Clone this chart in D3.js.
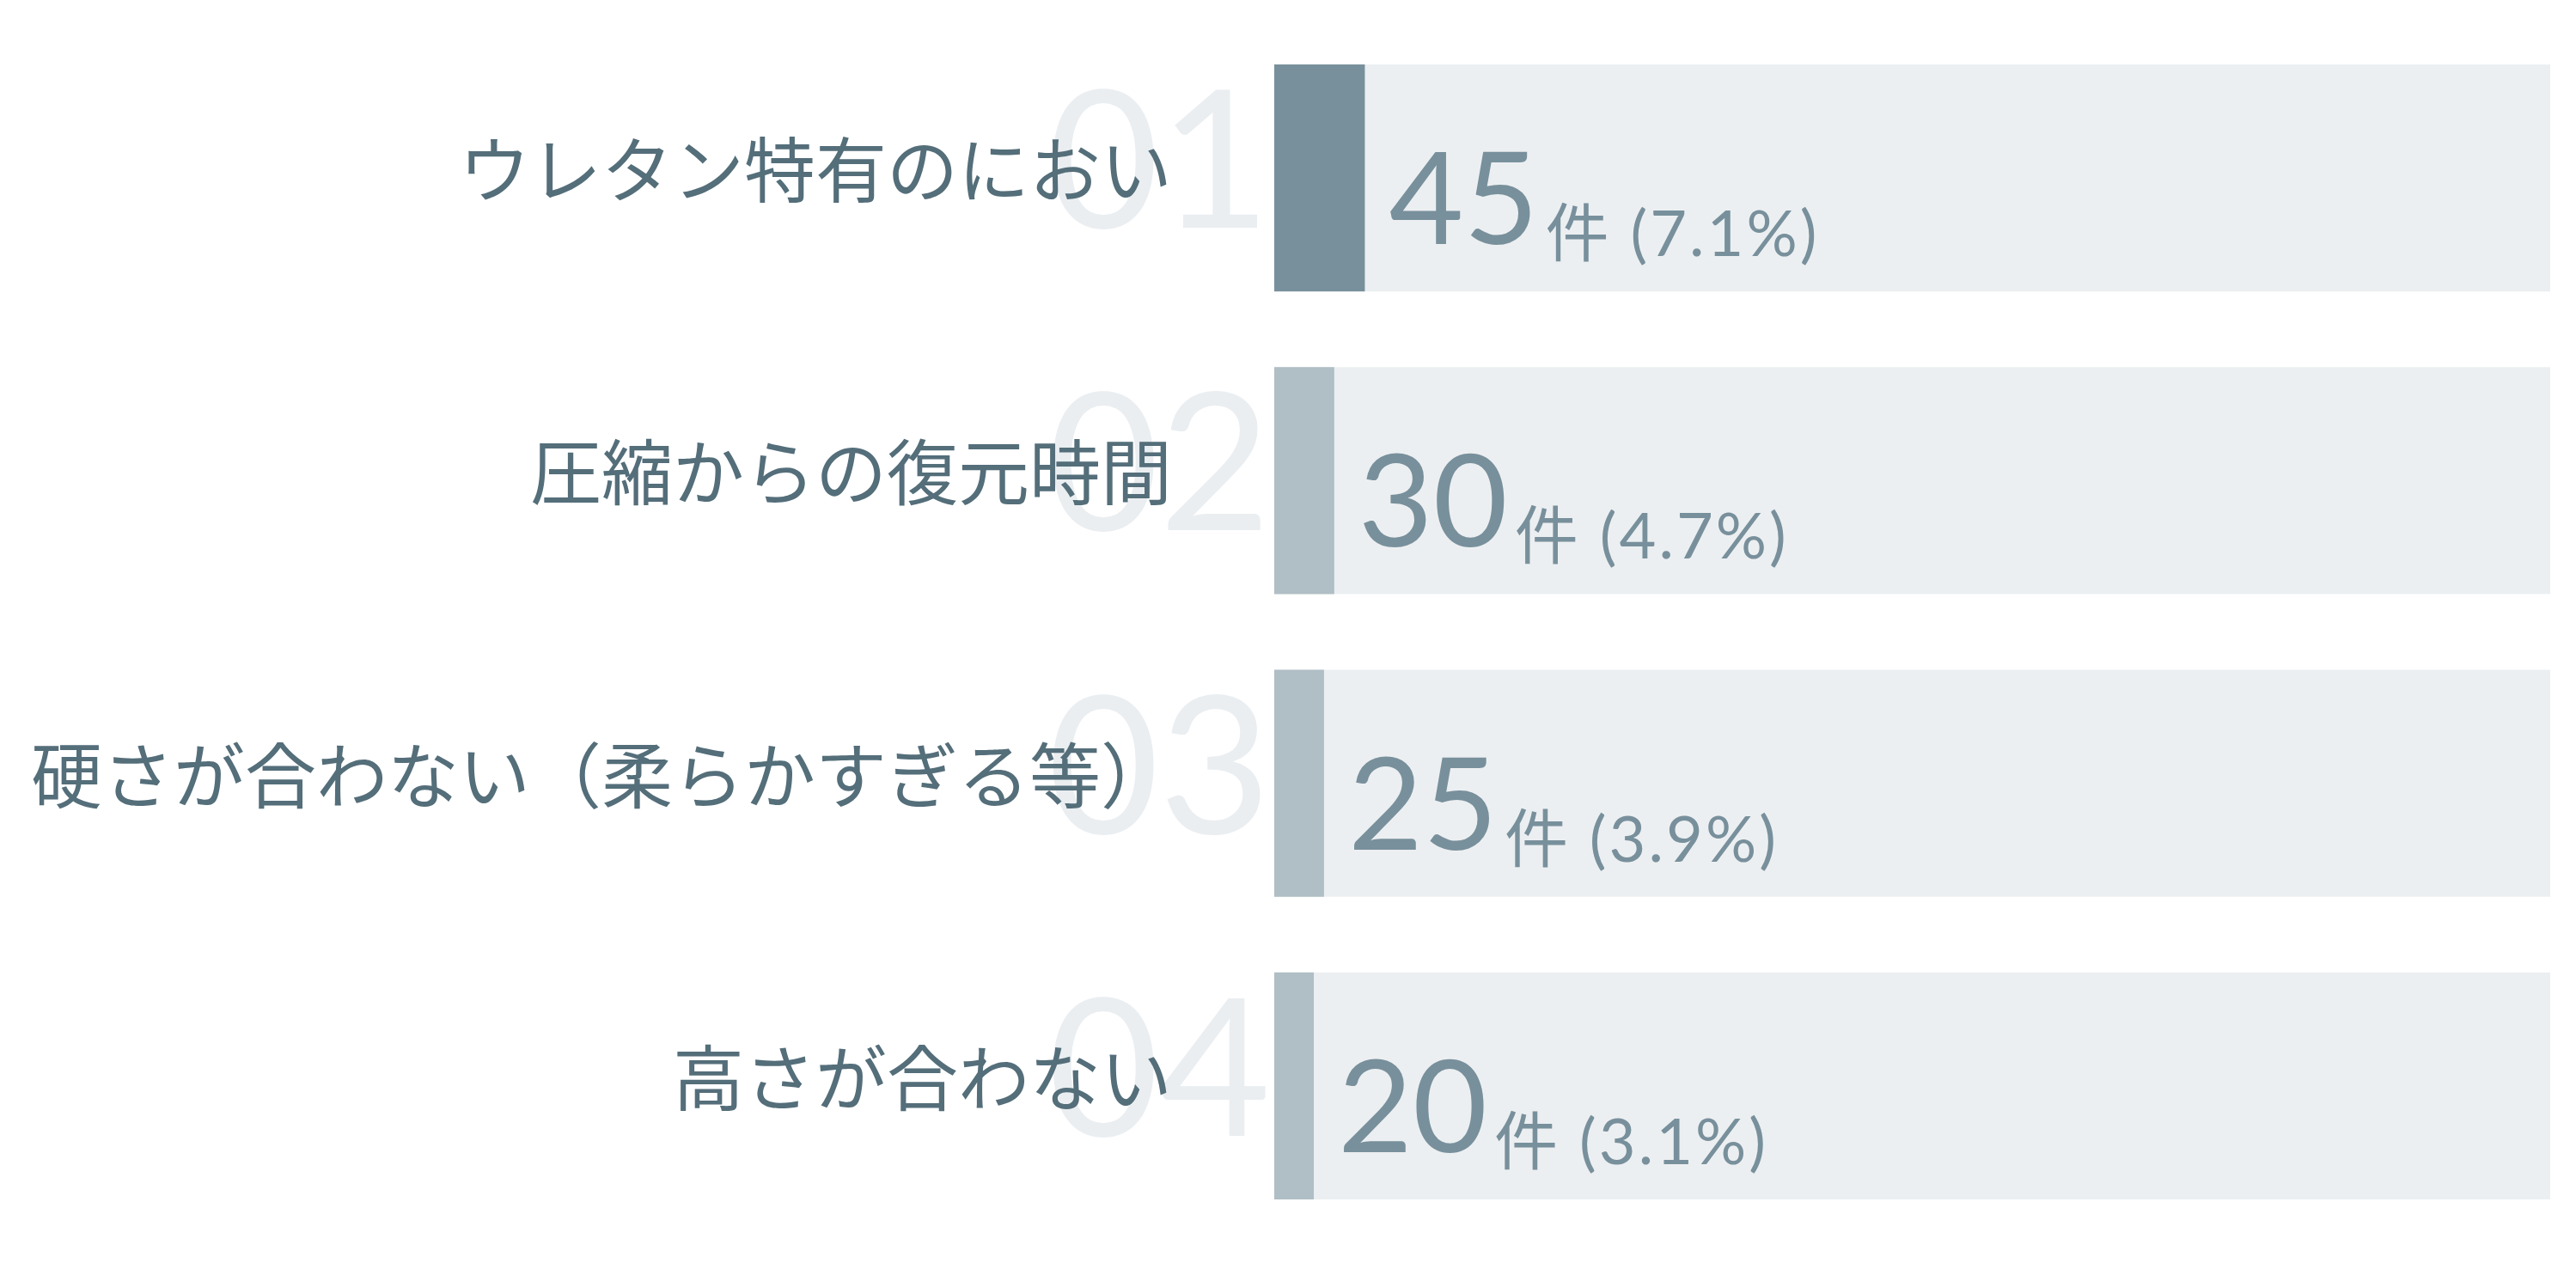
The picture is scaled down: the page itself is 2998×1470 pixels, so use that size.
<!DOCTYPE html>
<html>
<head>
<meta charset="utf-8">
<script src="https://cdn.jsdelivr.net/npm/d3@7"></script>
<style>
  html, body { margin: 0; padding: 0; background: #ffffff; }
  svg { display: block; }
</style>
</head>
<body>
<div id="chart"></div>
<script>
// Data
var ranks = ["01", "02", "03", "04"];
var categories = [
  "ウレタン特有のにおい",
  "圧縮からの復元時間",
  "硬さが合わない（柔らかすぎる等）",
  "高さが合わない"
];
var counts = [45, 30, 25, 20];
var percents = [7.1, 4.7, 3.9, 3.1];
var unitLabel = "件";

var rows = ranks.map(function(r, i) {
  return {rank: r, category: categories[i], count: counts[i], pct: percents[i]};
});

var width = 2998, height = 1470;

var svg = d3.select("#chart").append("svg")
  .attr("width", width)
  .attr("height", height);

// Scales
var x = d3.scaleLinear().domain([0, 100]).range([1483, 2968]);
var y = d3.scaleBand()
  .domain(ranks)
  .range([75, 1396])
  .paddingInner(0.25);

var row = svg.selectAll(".row")
  .data(rows)
  .enter()
  .append("g")
  .attr("class", "row")
  .attr("transform", function(d) { return "translate(0," + y(d.rank) + ")"; });

// big rank numbers behind the labels
row.append("text")
  .attr("x", x(0) - 4)
  .attr("y", 190)
  .attr("text-anchor", "end")
  .style("font-family", "Lato, sans-serif")
  .style("font-weight", 400)
  .style("font-size", "224px")
  .style("fill", "#eaeef1")
  .text(function(d) { return d.rank; });

// category labels
row.append("text")
  .attr("x", 1364)
  .attr("y", 154)
  .attr("text-anchor", "end")
  .style("font-family", "'Noto Sans CJK JP', sans-serif")
  .style("font-size", "83px")
  .style("fill", "#546e7a")
  .text(function(d) { return d.category; });

// background track
row.append("rect")
  .attr("x", x(0))
  .attr("y", 0)
  .attr("width", x(100) - x(0))
  .attr("height", y.bandwidth())
  .style("fill", "#eceff1");

// value bar
row.append("rect")
  .attr("x", x(0))
  .attr("y", 0)
  .attr("width", function(d) { return x(d.pct) - x(0); })
  .attr("height", y.bandwidth())
  .style("fill", function(d, i) { return i === 0 ? "#78909c" : "#b0bec5"; });

// value label: big count + small unit and percentage
var val = row.append("text")
  .attr("x", function(d) { return x(d.pct) + 28; })
  .attr("y", 209)
  .style("font-family", "Lato, 'Noto Sans CJK JP', sans-serif")
  .style("fill", "#78909c");

val.append("tspan")
  .style("font-size", "150px")
  .text(function(d) { return d.count; });

val.append("tspan")
  .attr("dx", 8)
  .attr("dy", 14)
  .style("font-size", "74px")
  .style("letter-spacing", "3px")
  .text(function(d) { return unitLabel + " (" + d.pct.toFixed(1) + "%)"; });
</script>
</body>
</html>
